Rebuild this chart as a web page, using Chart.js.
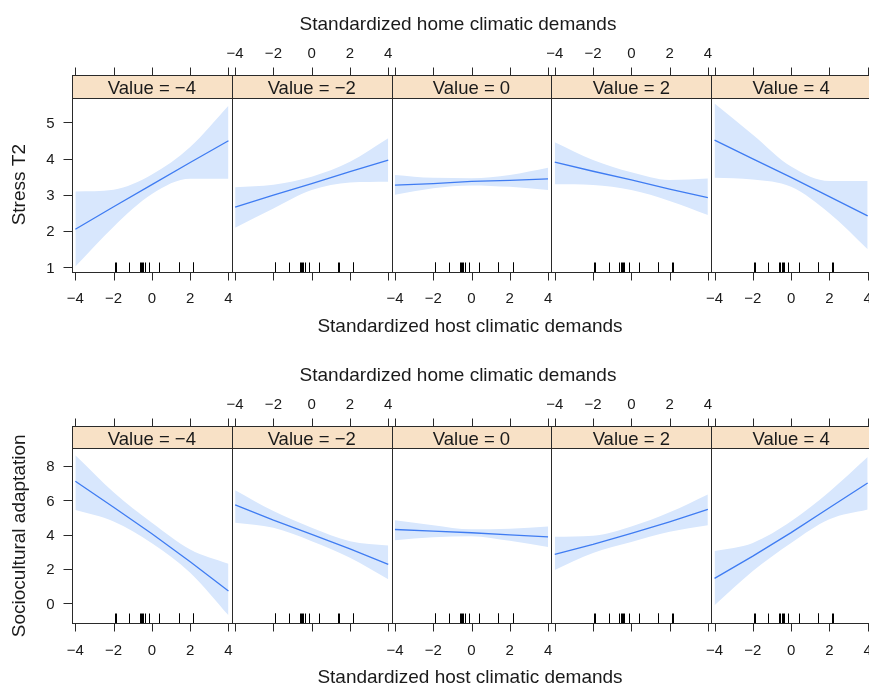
<!DOCTYPE html>
<html>
<head>
<meta charset="utf-8">
<script src="https://cdn.jsdelivr.net/npm/chart.js@4.4.0/dist/chart.umd.min.js"></script>
<style>
  html, body { margin: 0; padding: 0; background: #fff; overflow: hidden; }
  #wrap { position: relative; width: 869px; height: 683px; overflow: hidden; }
  #wrap canvas { position: absolute; left: 0; top: 0; }
</style>
</head>
<body>
<div id="wrap"></div>
<script>
// Data
const hostX = [-4, -2, 0, 2, 4];          // standardized host climatic demands
const homeValues = [-4, -2, 0, 2, 4];     // strip values (home climatic demands)
const xTicks = [-4, -2, 0, 2, 4];
const stressTicks = [1, 2, 3, 4, 5];
const socioTicks = [0, 2, 4, 6, 8];
const rugX = [-1.93, -1.90, -1.19, -0.62, -0.56, -0.50, -0.44, -0.36, -0.14, 0.39, 1.39, 1.41, 2.15, 2.17];

const stressFit = [
    [2.05, 2.67, 3.28, 3.89, 4.49],
    [2.66, 2.99, 3.31, 3.64, 3.96],
    [3.27, 3.31, 3.37, 3.40, 3.44],
    [3.90, 3.65, 3.41, 3.16, 2.92],
    [4.51, 3.99, 3.48, 2.95, 2.42]
];
const stressUpper = [
    [3.09, 3.14, 3.56, 4.32, 5.46],
    [3.21, 3.28, 3.50, 3.91, 4.56],
    [3.55, 3.47, 3.46, 3.55, 3.75],
    [4.45, 3.96, 3.62, 3.41, 3.45],
    [5.52, 4.66, 3.78, 3.38, 3.38]
];
const stressLower = [
    [1.02, 2.12, 3.02, 3.44, 3.44],
    [2.09, 2.62, 3.13, 3.34, 3.36],
    [3.00, 3.18, 3.26, 3.22, 3.13],
    [3.29, 3.27, 3.13, 2.83, 2.44],
    [3.47, 3.42, 3.22, 2.49, 1.50]
];

const socioFit = [
    [7.11, 5.60, 4.05, 2.42, 0.72],
    [5.73, 4.84, 4.02, 3.17, 2.27],
    [4.30, 4.20, 4.11, 3.99, 3.87],
    [2.85, 3.43, 4.07, 4.75, 5.47],
    [1.45, 2.75, 4.12, 5.57, 7.01]
];
const socioUpper = [
    [8.62, 6.47, 4.69, 3.14, 2.30],
    [6.59, 5.37, 4.40, 3.62, 3.37],
    [4.84, 4.55, 4.31, 4.34, 4.48],
    [3.87, 3.93, 4.47, 5.30, 6.34],
    [3.04, 3.52, 4.78, 6.50, 8.52]
];
const socioLower = [
    [5.43, 4.77, 3.50, 1.78, -0.70],
    [4.69, 4.40, 3.62, 2.65, 1.40],
    [3.68, 3.85, 3.91, 3.64, 3.28],
    [1.94, 2.93, 3.57, 4.17, 4.55],
    [-0.12, 1.88, 3.52, 4.90, 5.47]
];

// Layout
const CANVAS_W = 900, CANVAS_H = 683;
const PANEL_LEFT = 72, PANEL_W = 159.8;
const X_MIN = -4.175, X_MAX = 4.175;
const TICK_LEN = 8, RUG_LEN = 10;
const FONT = '"Liberation Sans", Arial, sans-serif';
const TEXT = '#1a1a1a';
const FRAME = '#2a2a2a';
const STRIP_BG = '#f8e1c6';
const BAND = '#d8e7fd';
const LINE = '#3f7cf2';

const rows = [
    {
        ylab: 'Stress T2', yTicks: stressTicks, fit: stressFit, upper: stressUpper, lower: stressLower,
        stripTop: 75, plotTop: 97.7, plotBottom: 271.7, yMin: 0.879, yMax: 5.679,
        titleTopBase: 29.5, titleTopX: 458, titleBotBase: 331.7, titleBotX: 470
    },
    {
        ylab: 'Sociocultural adaptation', yTicks: socioTicks, fit: socioFit, upper: socioUpper, lower: socioLower,
        stripTop: 426, plotTop: 448.3, plotBottom: 623.3, yMin: -1.165, yMax: 9.03,
        titleTopBase: 380.5, titleTopX: 458, titleBotBase: 682.5, titleBotX: 470
    }
];

const fmt = v => (v < 0 ? '\u2212' + Math.abs(v) : String(v));
const crisp = v => Math.round(v) + 0.5;

// Draws the lattice furniture: strip, frame, ticks, labels, rug
const latticePanel = {
    id: 'latticePanel',
    afterDatasetsDraw(chart, args, o) {
        const { ctx, chartArea: a, scales: { x, y } } = chart;
        const L = crisp(a.left), R = crisp(a.right), T = crisp(a.top), B = crisp(a.bottom);
        const S = crisp(o.stripTop);
        ctx.save();
        ctx.lineWidth = 1;

        // rug
        ctx.strokeStyle = '#000';
        ctx.beginPath();
        rugX.forEach(v => {
            const px = crisp(x.getPixelForValue(v));
            ctx.moveTo(px, B);
            ctx.lineTo(px, B - RUG_LEN);
        });
        ctx.stroke();

        // strip
        ctx.fillStyle = STRIP_BG;
        ctx.fillRect(L, S, R - L, T - S);
        ctx.strokeStyle = FRAME;
        ctx.strokeRect(L, S, R - L, T - S);
        ctx.strokeRect(L, T, R - L, B - T);

        ctx.fillStyle = TEXT;
        ctx.font = '18.5px ' + FONT;
        ctx.textAlign = 'center';
        ctx.textBaseline = 'alphabetic';
        ctx.fillText('Value = ' + fmt(o.value), (a.left + a.right) / 2, o.stripTop + 19.3);

        // x ticks, top (above strip) and bottom
        ctx.strokeStyle = FRAME;
        ctx.beginPath();
        xTicks.forEach(v => {
            const px = crisp(x.getPixelForValue(v));
            ctx.moveTo(px, S);
            ctx.lineTo(px, S - TICK_LEN);
            ctx.moveTo(px, B);
            ctx.lineTo(px, B + TICK_LEN);
        });
        ctx.stroke();

        ctx.font = '15px ' + FONT;
        xTicks.forEach(v => {
            const px = x.getPixelForValue(v);
            if (o.topLabels) ctx.fillText(fmt(v), px, o.stripTop - 16.7);
            if (o.bottomLabels) ctx.fillText(fmt(v), px, a.bottom + 31.6);
        });

        if (o.panel === 0) {
            // y axis on the left
            ctx.beginPath();
            o.yTicks.forEach(v => {
                const py = crisp(y.getPixelForValue(v));
                ctx.moveTo(L, py);
                ctx.lineTo(L - 9, py);
            });
            ctx.stroke();
            ctx.textAlign = 'right';
            o.yTicks.forEach(v => {
                ctx.fillText(fmt(v), 54.5, y.getPixelForValue(v) + 5.4);
            });

            // axis titles
            ctx.font = '19px ' + FONT;
            ctx.textAlign = 'center';
            ctx.fillText('Standardized home climatic demands', o.titleTopX, o.titleTopBase);
            ctx.fillText('Standardized host climatic demands', o.titleBotX, o.titleBotBase);

            ctx.save();
            ctx.translate(25.3, (a.top + a.bottom) / 2);
            ctx.rotate(-Math.PI / 2);
            ctx.fillText(o.ylab, 0, 0);
            ctx.restore();
        }
        ctx.restore();
    }
};

const wrap = document.getElementById('wrap');

rows.forEach(row => {
    homeValues.forEach((val, p) => {
        const canvas = document.createElement('canvas');
        canvas.width = CANVAS_W;
        canvas.height = CANVAS_H;
        canvas.style.width = CANVAS_W + 'px';
        canvas.style.height = CANVAS_H + 'px';
        wrap.appendChild(canvas);

        const left = PANEL_LEFT + p * PANEL_W;
        const pts = arr => hostX.map((xv, i) => ({ x: xv, y: arr[p][i] }));

        new Chart(canvas.getContext('2d'), {
            type: 'line',
            data: {
                datasets: [
                    {
                        label: 'upper',
                        data: pts(row.upper),
                        borderWidth: 0,
                        pointRadius: 0,
                        backgroundColor: BAND,
                        fill: '+1',
                        order: 2,
                        cubicInterpolationMode: 'monotone'
                    },
                    {
                        label: 'lower',
                        data: pts(row.lower),
                        borderWidth: 0,
                        pointRadius: 0,
                        fill: false,
                        order: 1,
                        cubicInterpolationMode: 'monotone'
                    },
                    {
                        label: 'fit',
                        data: pts(row.fit),
                        borderColor: LINE,
                        borderWidth: 1.3,
                        pointRadius: 0,
                        fill: false,
                        order: 0,
                        tension: 0
                    }
                ]
            },
            options: {
                responsive: false,
                devicePixelRatio: 1,
                animation: false,
                events: [],
                layout: {
                    padding: {
                        left: left,
                        right: CANVAS_W - left - PANEL_W,
                        top: row.plotTop,
                        bottom: CANVAS_H - row.plotBottom
                    }
                },
                scales: {
                    x: { type: 'linear', min: X_MIN, max: X_MAX, display: false },
                    y: { type: 'linear', min: row.yMin, max: row.yMax, display: false }
                },
                plugins: {
                    legend: { display: false },
                    tooltip: { enabled: false },
                    latticePanel: {
                        panel: p,
                        value: val,
                        topLabels: p % 2 === 1,
                        bottomLabels: p % 2 === 0,
                        stripTop: row.stripTop,
                        yTicks: row.yTicks,
                        ylab: row.ylab,
                        titleTopX: row.titleTopX,
                        titleTopBase: row.titleTopBase,
                        titleBotX: row.titleBotX,
                        titleBotBase: row.titleBotBase
                    }
                }
            },
            plugins: [latticePanel]
        });
    });
});
</script>
</body>
</html>
